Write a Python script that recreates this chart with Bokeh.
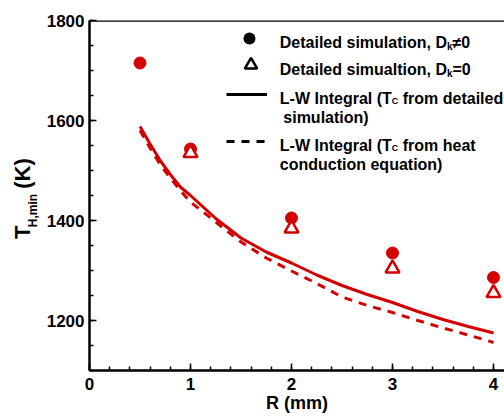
from bokeh.plotting import figure
from bokeh.models import (Range1d, SingleIntervalTicker, FixedTicker, LinearAxis, Span, Label,
                          Legend, LegendItem)
from bokeh.embed import file_html
from bokeh.resources import INLINE

# ---------------- data ----------------
r_dk = [0.5, 1.0, 2.0, 3.0, 4.0]
t_dk = [1715, 1543, 1405, 1335, 1286]

r_d0 = [1.0, 2.0, 3.0, 4.0]
t_d0 = [1535, 1384, 1304, 1255]

r_lw_sim = [0.5, 0.6, 0.7, 0.8, 0.9, 1.0, 1.25, 1.5, 1.75, 2.0, 2.25, 2.5, 2.75, 3.0, 3.25, 3.5, 3.75, 4.0]
t_lw_sim = [1588, 1553, 1520, 1492, 1467, 1450, 1404, 1365, 1337, 1315, 1291, 1270, 1252, 1236, 1218, 1202, 1188, 1175]

r_lw_heat = [0.5, 0.6, 0.7, 0.8, 0.9, 1.0, 1.25, 1.5, 1.75, 2.0, 2.25, 2.5, 2.75, 3.0, 3.25, 3.5, 3.75, 4.0]
t_lw_heat = [1580, 1545, 1512, 1485, 1460, 1437, 1397, 1357, 1325, 1299, 1274, 1247, 1230, 1216, 1200, 1185, 1171, 1156]

x_major = 1
y_major = 200

RED = "#d40000"
FONT = "Liberation Sans"
NB = "\u00a0"

# Arial/Liberation Sans Bold advance widths (per 1000 em)
WID = {' ': 278, '(': 333, ')': 333, ',': 278, '-': 333, '0': 556, '=': 584, '≠': 584,
       'C': 722, 'D': 722, 'I': 278, 'L': 611, 'T': 611, 'W': 944, 'H': 722, 'K': 722,
       'a': 556, 'c': 556, 'd': 611, 'e': 556, 'f': 333, 'g': 611, 'h': 611, 'i': 278,
       'k': 556, 'l': 278, 'm': 889, 'n': 611, 'o': 611, 'q': 611, 'r': 389, 's': 556,
       't': 333, 'u': 611}


def tw(s, size):
    return sum(WID.get(c, 556) for c in s) * size / 1000.0


# page layout (Bokeh's page template has no body margin)
FIG_W, FIG_H = 504, 417
B_LEFT, B_TOP, B_BOTTOM = 89, 20, 47
FL = B_LEFT
FB = FIG_H - B_BOTTOM
FW = FIG_W - B_LEFT

X0 = 0.0
X1 = X0 + FW / 101.0

p = figure(width=FIG_W, height=FIG_H, output_backend="svg", toolbar_location=None,
           x_range=Range1d(X0, X1), y_range=Range1d(1100, 1800),
           min_border_left=B_LEFT, min_border_right=0, min_border_top=B_TOP,
           min_border_bottom=B_BOTTOM)
p.outline_line_color = None
p.xgrid.visible = False
p.ygrid.visible = False
p.background_fill_color = "white"
p.border_fill_color = "white"

p.xaxis.ticker = SingleIntervalTicker(interval=x_major, num_minor_ticks=5)
p.yaxis.ticker = SingleIntervalTicker(interval=y_major, num_minor_ticks=4)
for ax in (p.xaxis, p.yaxis):
    ax.axis_line_width = 2.5
    ax.axis_line_color = "black"
    ax.major_tick_in = 7
    ax.major_tick_out = 0
    ax.minor_tick_in = 4
    ax.minor_tick_out = 0
    ax.major_tick_line_width = 1.5
    ax.minor_tick_line_width = 1.5
    ax.major_tick_line_color = "black"
    ax.minor_tick_line_color = "black"
    ax.major_label_text_font = FONT
    ax.major_label_text_font_style = "bold"
    ax.major_label_text_font_size = "17px"
    ax.major_label_text_color = "black"
    ax.axis_label_text_font = FONT
    ax.axis_label_text_font_style = "bold"
    ax.axis_label_text_color = "black"
p.xaxis.major_label_standoff = 7
p.yaxis.major_label_standoff = 5

# x title
p.xaxis.axis_label = "R (mm)"
p.xaxis.axis_label_text_font_size = "18px"
p.xaxis.axis_label_standoff = 0

# y title: subscript on the inner axis, main symbol on an outer, bare axis
p.yaxis.axis_label = "H,min" + NB * 9
p.yaxis.axis_label_text_font_size = "12px"
p.yaxis.axis_label_standoff = 4

outer = LinearAxis(ticker=FixedTicker(ticks=[]), axis_line_color=None,
                   major_tick_line_color=None, minor_tick_line_color=None,
                   axis_label="T" + NB * 6 + "(K)" + NB,
                   axis_label_text_font=FONT, axis_label_text_font_style="bold",
                   axis_label_text_font_size="22px", axis_label_text_color="black",
                   axis_label_standoff=-12)
p.add_layout(outer, "left")

p.add_layout(Span(location=1800, dimension="width", line_color="black", line_width=2.5))

# legend sample renderers (black, not visible in the plot area)
lg_c = p.scatter(r_dk[:1], t_dk[:1], marker="circle", size=0, fill_color="black", line_color="black", line_width=0)
lg_t = p.scatter(r_d0[:1], t_d0[:1], marker="triangle", size=0, fill_color="white", line_color="black", line_width=2.5)
lg_l = p.line(r_lw_sim[:1], t_lw_sim[:1], line_color="black", line_width=3)
lg_d = p.line(r_lw_heat[:1], t_lw_heat[:1], line_color="black", line_width=3, line_dash="8 7")

# data
p.line(r_lw_sim, t_lw_sim, line_color=RED, line_width=3)
p.line(r_lw_heat, t_lw_heat, line_color=RED, line_width=3, line_dash="8 7")
p.scatter(r_dk, t_dk, marker="circle", size=12, fill_color=RED, line_color=RED)
p.scatter(r_d0, t_d0, marker="triangle", size=14, fill_color="white", line_color=RED, line_width=2.5)


def add_legend(rend, cx, cy, gw, gh):
    left = cx - gw / 2.0 - FL
    bottom = FB - (cy + gh / 2.0)
    lg = Legend(items=[LegendItem(label=" ", renderers=[rend])], location=(left, bottom),
                glyph_width=gw, glyph_height=gh, label_height=gh, label_width=1,
                label_standoff=0, padding=0, margin=0, spacing=0,
                label_text_font_size="1px", border_line_color=None,
                background_fill_alpha=0)
    p.add_layout(lg)


add_legend(lg_c, 249.3, 38.3, 30, 30)
add_legend(lg_t, 250.0, 64.5, 31, 31)
add_legend(lg_l, 246.5, 94.0, 41, 10)
add_legend(lg_d, 246.5, 140.7, 41, 10)


def label(txt, px, py, size):
    p.add_layout(Label(x=px - FL, y=FB - py, x_units="screen", y_units="screen",
                       text=txt, text_font=FONT, text_font_style="bold",
                       text_font_size=f"{size}px", text_color="black",
                       text_baseline="alphabetic", text_align="left"))


LS = 16
TX = 279.3


def sub_row(main, sub, tail, py, sub_size, sub_drop, gap=0.0):
    label(main, TX, py, LS)
    xs = TX + tw(main, LS)
    label(sub, xs, py + sub_drop, sub_size)
    label(tail, xs + tw(sub, sub_size) + gap, py, LS)


SP = tw(" ", LS)
sub_row("Detailed simulation, D", "k", "≠0", 42.3, 10, 4)
sub_row("Detailed simualtion, D", "k", "=0", 69.0, 10, 4)
sub_row("L-W Integral (T", "C", "from detailed", 98.3, 9, 2.5, SP)
label("simulation)", TX + 3.5, 117.3, LS)
sub_row("L-W Integral (T", "C", "from heat", 145.0, 9, 2.5, SP)
label("conduction equation)", TX, 164.0, LS)

open("out.html", "w").write(file_html(p, INLINE))
